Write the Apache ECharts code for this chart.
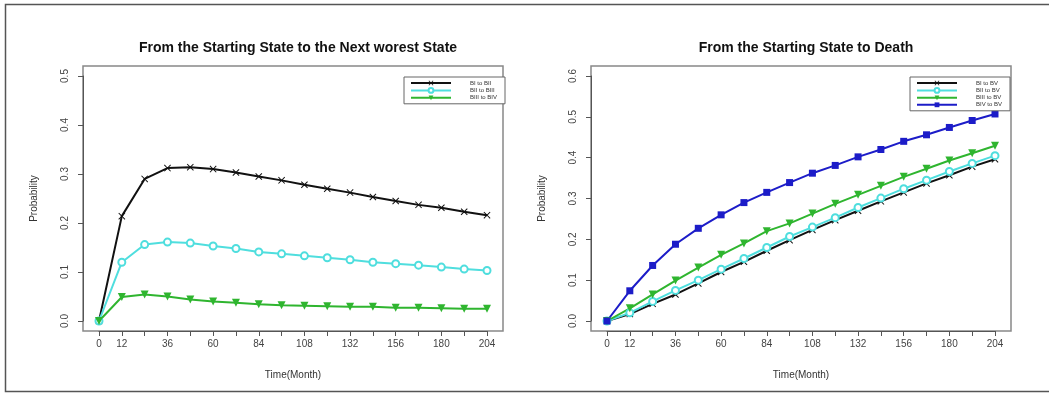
<!DOCTYPE html>
<html>
<head>
<meta charset="utf-8">
<script src="https://cdn.jsdelivr.net/npm/echarts@6/dist/echarts.min.js"></script>
<style>
  html, body { margin: 0; padding: 0; background: #fff; }
  #main { width: 1049px; height: 393px; }
</style>
</head>
<body>
<div id="main"></div>
<script>
var myChart = echarts.init(document.getElementById('main'));

// time points (months)
var months = [0, 12, 24, 36, 48, 60, 72, 84, 96, 108, 120, 132, 144, 156, 168, 180, 192, 204];

// left panel: starting state -> next worse state
var nextNames = ['BI to BII', 'BII to BIII', 'BIII to BIV'];
var nextBI = [0, 0.214, 0.290, 0.312, 0.314, 0.310, 0.303, 0.295, 0.287, 0.278, 0.270, 0.262, 0.253, 0.245, 0.237, 0.231, 0.223, 0.216];
var nextBII = [0, 0.120, 0.156, 0.161, 0.159, 0.153, 0.148, 0.141, 0.137, 0.133, 0.129, 0.125, 0.120, 0.117, 0.114, 0.110, 0.106, 0.103];
var nextBIII = [0, 0.049, 0.054, 0.050, 0.044, 0.040, 0.037, 0.034, 0.032, 0.031, 0.030, 0.029, 0.029, 0.027, 0.027, 0.026, 0.025, 0.025];

// right panel: starting state -> death
var deathNames = ['BI to BV', 'BII to BV', 'BIII to BV', 'BIV to BV'];
var deathBI = [0, 0.017, 0.042, 0.065, 0.092, 0.120, 0.145, 0.172, 0.198, 0.223, 0.247, 0.270, 0.293, 0.315, 0.337, 0.357, 0.378, 0.396];
var deathBII = [0, 0.020, 0.048, 0.075, 0.100, 0.127, 0.153, 0.180, 0.207, 0.230, 0.253, 0.278, 0.301, 0.324, 0.345, 0.366, 0.386, 0.405];
var deathBIII = [0, 0.031, 0.065, 0.099, 0.131, 0.162, 0.190, 0.220, 0.239, 0.263, 0.287, 0.309, 0.331, 0.353, 0.373, 0.393, 0.411, 0.429];
var deathBIV = [0, 0.074, 0.136, 0.188, 0.227, 0.260, 0.290, 0.315, 0.339, 0.362, 0.381, 0.402, 0.420, 0.440, 0.456, 0.474, 0.491, 0.507];

var crossSym = 'path://M0,1L1,0L5,4L9,0L10,1L6,5L10,9L9,10L5,6L1,10L0,9L4,5Z';
var fontName = 'Liberation Sans, Arial, sans-serif';

function pairs(vals) {
    return months.map(function (m, i) { return [m, vals[i]]; });
}

function line(name, vals, color, symbol, size, idx, extra) {
    var s = {
        name: name,
        type: 'line',
        xAxisIndex: idx,
        yAxisIndex: idx,
        data: pairs(vals),
        symbol: symbol,
        symbolSize: size,
        showAllSymbol: true,
        lineStyle: { color: color, width: 2 },
        itemStyle: { color: color },
        animation: false
    };
    if (extra) { for (var k in extra) s[k] = extra[k]; }
    return s;
}

// frame grids (the R box) + data grids
var frames = [
    { left: 83, top: 66, width: 420, height: 265 },
    { left: 591, top: 66, width: 420, height: 265 }
];
var grids = [
    { left: 99, top: 76, width: 388, height: 245 },
    { left: 607, top: 76, width: 388, height: 245 }
];

var gridList = [], xAxes = [], yAxes = [];
grids.forEach(function (g, i) {
    gridList.push({ left: g.left, top: g.top, width: g.width, height: g.height, show: false });
    xAxes.push({
        type: 'value', gridIndex: i, min: 0, max: 204, interval: 12,
        offset: 10,
        name: 'Time(Month)', nameLocation: 'middle', nameGap: 39,
        nameTextStyle: { fontFamily: fontName, fontSize: 10, color: '#333' },
        axisLine: { show: true, onZero: false, lineStyle: { color: '#555' } },
        axisTick: { show: true, length: 5, lineStyle: { color: '#555' } },
        splitLine: { show: false },
        axisLabel: {
            fontFamily: fontName, fontSize: 10, color: '#444', margin: 8,
            formatter: function (v) { return (v === 0 || (v / 12) % 2 === 1) ? String(v) : ''; }
        }
    });
    yAxes.push({
        type: 'value', gridIndex: i, min: 0, max: i === 0 ? 0.5 : 0.6, interval: 0.1,
        offset: 16,
        name: 'Probability', nameLocation: 'middle', nameGap: 44, nameRotate: 90,
        nameTextStyle: { fontFamily: fontName, fontSize: 10, color: '#333' },
        axisLine: { show: true, onZero: false, lineStyle: { color: '#555' } },
        axisTick: { show: true, length: 5, lineStyle: { color: '#555' } },
        splitLine: { show: false },
        axisLabel: {
            fontFamily: fontName, fontSize: 10, color: '#444', margin: 13, rotate: 90,
            formatter: function (v) { return v.toFixed(1); }
        }
    });
});
frames.forEach(function (f, i) {
    gridList.push({ left: f.left, top: f.top, width: f.width, height: f.height, show: true,
        borderColor: '#888', borderWidth: 1.5, backgroundColor: 'transparent' });
    xAxes.push({ type: 'value', gridIndex: 2 + i, show: false, min: 0, max: 1 });
    yAxes.push({ type: 'value', gridIndex: 2 + i, show: false, min: 0, max: 1 });
});

var cBlack = '#111111', cCyan = '#4fdede', cGreen = '#2fb52f', cBlue = '#1c1cc8';
var downTri = { symbolRotate: 180 };

var legendBase = {
    orient: 'vertical', itemWidth: 40, itemHeight: 6, itemGap: 1,
    padding: [3, 8, 3, 6], borderColor: '#666', borderWidth: 1, backgroundColor: '#fff',
    textStyle: { fontFamily: fontName, fontSize: 6, color: '#333', padding: [0, 0, 0, 14] }
};

var option = {
    backgroundColor: '#fff',
    animation: false,
    title: [
        { text: 'From the Starting State to the Next worest State', left: 293, top: 36, textAlign: 'center',
          textStyle: { fontFamily: fontName, fontSize: 14, fontWeight: 'bold', color: '#111' } },
        { text: 'From the Starting State to Death', left: 801, top: 36, textAlign: 'center',
          textStyle: { fontFamily: fontName, fontSize: 14, fontWeight: 'bold', color: '#111' } }
    ],
    legend: [
        Object.assign({}, legendBase, { data: nextNames, left: 404, top: 77 }),
        Object.assign({}, legendBase, { data: deathNames, left: 910, top: 77 })
    ],
    grid: gridList,
    xAxis: xAxes,
    yAxis: yAxes,
    graphic: [{
        type: 'rect', shape: { x: 5.5, y: 4.5, width: 1050, height: 387 },
        style: { fill: 'none', stroke: '#555', lineWidth: 1.5 }, silent: true
    }],
    series: [
        line(nextNames[0], nextBI, cBlack, crossSym, 7, 0),
        line(nextNames[1], nextBII, cCyan, 'emptyCircle', 7, 0),
        line(nextNames[2], nextBIII, cGreen, 'triangle', 8, 0, downTri),
        line(deathNames[0], deathBI, cBlack, crossSym, 7, 1),
        line(deathNames[1], deathBII, cCyan, 'emptyCircle', 7, 1),
        line(deathNames[2], deathBIII, cGreen, 'triangle', 8, 1, downTri),
        line(deathNames[3], deathBIV, cBlue, 'rect', 7, 1)
    ]
};
myChart.setOption(option);
</script>
</body>
</html>
